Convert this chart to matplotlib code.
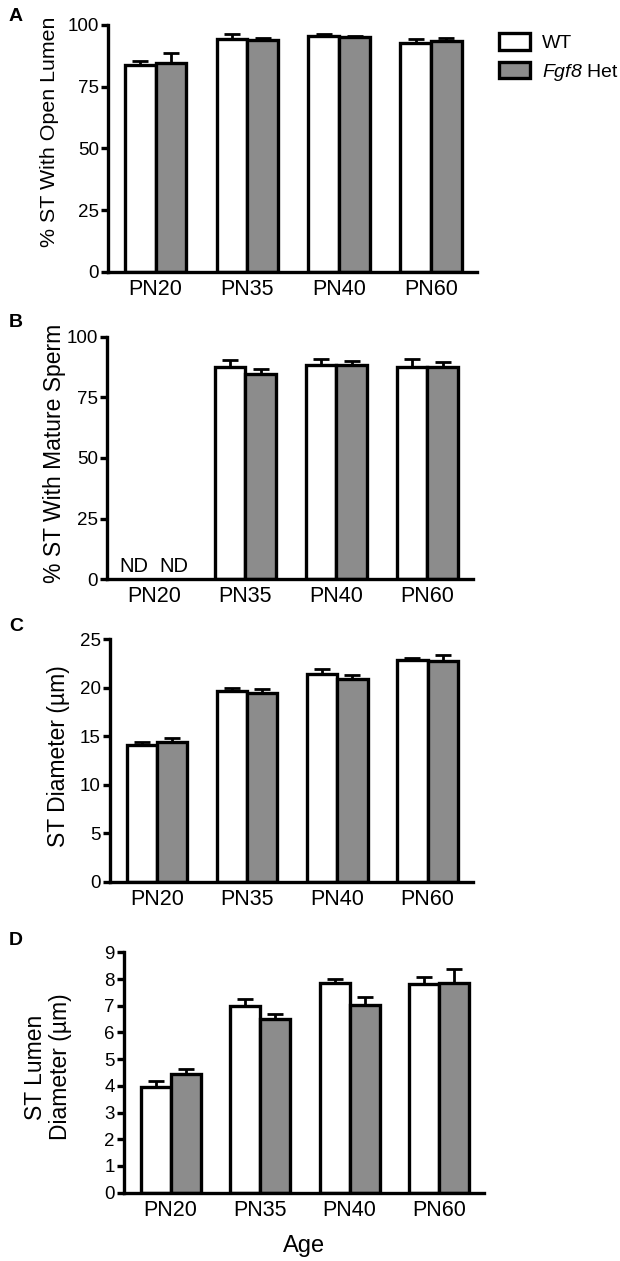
import numpy as np
import matplotlib
matplotlib.use("Agg")
import matplotlib.pyplot as plt

plt.rcParams["font.family"] = ["Liberation Sans", "DejaVu Sans"]
plt.rcParams["mathtext.fontset"] = "custom"
plt.rcParams["mathtext.it"] = "Liberation Sans:italic"
# digits inside math are drawn with the rm font; make that italic too for "Fgf8"
plt.rcParams["mathtext.rm"] = "Liberation Sans:italic"

AGES = ["PN20", "PN35", "PN40", "PN60"]

# A: % ST with open lumen
lumen_wt = [83.7, 94.5, 95.4, 92.6]
lumen_wt_err = [1.8, 1.8, 0.8, 1.9]
lumen_het = [84.7, 94.1, 95.0, 93.5]
lumen_het_err = [4.0, 0.8, 0.7, 1.2]

# B: % ST with mature sperm (PN20 not determined)
sperm_wt = [np.nan, 87.4, 88.2, 87.6]
sperm_wt_err = [np.nan, 3.0, 2.6, 3.0]
sperm_het = [np.nan, 84.6, 88.5, 87.6]
sperm_het_err = [np.nan, 1.9, 1.6, 2.0]

# C: ST diameter
diam_wt = [14.1, 19.67, 21.4, 22.87]
diam_wt_err = [0.27, 0.27, 0.55, 0.17]
diam_het = [14.44, 19.46, 20.9, 22.8]
diam_het_err = [0.36, 0.42, 0.42, 0.55]

# D: ST lumen diameter
ldiam_wt = [3.97, 7.0, 7.85, 7.81]
ldiam_wt_err = [0.21, 0.27, 0.16, 0.28]
ldiam_het = [4.44, 6.5, 7.03, 7.85]
ldiam_het_err = [0.18, 0.18, 0.29, 0.51]

GRAY = "#8c8c8c"
LW = 2.4
W_PX, H_PX = 620, 1261


def fx(px):
    return px / W_PX


def fy(py):
    return 1 - py / H_PX


fig = plt.figure(figsize=(6.2, 12.61), dpi=100)

# letter, rect, data..., ylabel, label font, label centre (px), letter top (px), ymax, ticks
panels = [
    ("A", [0.174, 0.7843, 0.595, 0.1959], lumen_wt, lumen_wt_err, lumen_het, lumen_het_err,
     "% ST With Open Lumen", 15.4, (50, 132), 8, 100, np.arange(0, 101, 25)),
    ("B", [0.1726, 0.5406, 0.590, 0.1924], sperm_wt, sperm_wt_err, sperm_het, sperm_het_err,
     "% ST With Mature Sperm", 16.5, (55, 453), 314, 100, np.arange(0, 101, 25)),
    ("C", [0.1774, 0.3008, 0.585, 0.1922], diam_wt, diam_wt_err, diam_het, diam_het_err,
     "ST Diameter (µm)", 16.5, (58, 756), 618, 25, np.arange(0, 26, 5)),
    ("D", [0.200, 0.0542, 0.5806, 0.1906], ldiam_wt, ldiam_wt_err, ldiam_het, ldiam_het_err,
     "ST Lumen\nDiameter (µm)", 16.5, (48, 1067), 932, 9, np.arange(0, 10, 1)),
]

x = np.arange(len(AGES))
w = 0.335
handles = None
for (letter, rect, wt, wt_err, het, het_err, ylabel, lab_fs, lab_xy, let_top,
     ymax, yticks) in panels:
    ax = fig.add_axes(rect)
    wt = np.array(wt, dtype=float)
    het = np.array(het, dtype=float)
    ok_wt = ~np.isnan(wt)
    ok_het = ~np.isnan(het)
    xw = x[ok_wt] - w / 2
    xh = x[ok_het] + w / 2
    b1 = ax.bar(xw, wt[ok_wt], w, color="white", edgecolor="black", linewidth=LW, zorder=2)
    b2 = ax.bar(xh, het[ok_het], w, color=GRAY, edgecolor="black", linewidth=LW, zorder=2)
    e_wt = np.array(wt_err, dtype=float)[ok_wt]
    e_het = np.array(het_err, dtype=float)[ok_het]
    ax.errorbar(xw, wt[ok_wt], yerr=[np.zeros_like(e_wt), e_wt], fmt="none",
                ecolor="black", elinewidth=2, capsize=6, capthick=2, zorder=1)
    ax.errorbar(xh, het[ok_het], yerr=[np.zeros_like(e_het), e_het], fmt="none",
                ecolor="black", elinewidth=2, capsize=6, capthick=2, zorder=1)
    for i in np.where(~ok_wt)[0]:
        ax.text(x[i] - w / 2 - 0.06, ymax * 0.015, "ND", ha="center", va="bottom", fontsize=14.5)
    for i in np.where(~ok_het)[0]:
        ax.text(x[i] + w / 2 + 0.05, ymax * 0.015, "ND", ha="center", va="bottom", fontsize=14.5)

    ax.set_xlim(-0.52, 3.5)
    ax.set_ylim(0, ymax)
    ax.set_yticks(yticks)
    ax.set_xticks(x)
    ax.set_xticklabels(AGES)
    for s in ["top", "right"]:
        ax.spines[s].set_visible(False)
    for s in ["left", "bottom"]:
        ax.spines[s].set_linewidth(LW)
    ax.tick_params(axis="y", direction="out", length=5, width=LW, labelsize=13.5, pad=1.5)
    ax.tick_params(axis="x", length=0, labelsize=15.5, pad=5)

    fig.text(fx(lab_xy[0]), fy(lab_xy[1]), ylabel, rotation=90, ha="center", va="center",
             fontsize=lab_fs, linespacing=1.15, multialignment="center")
    fig.text(fx(9), fy(let_top), letter, fontsize=14, fontweight="bold",
             ha="left", va="top")
    if letter == "A":
        handles = [b1, b2]

fig.text(fx(304), fy(1246), "Age", ha="center", va="center", fontsize=17)

fig.legend(handles, ["WT", r"$Fgf8$ Het"], loc="upper left",
           bbox_to_anchor=(fx(499), fy(33)), frameon=False, fontsize=14,
           handlelength=1.6, handleheight=0.93, labelspacing=0.5, handletextpad=0.6,
           borderaxespad=0, borderpad=0)

fig.savefig("out.png", dpi=100)
